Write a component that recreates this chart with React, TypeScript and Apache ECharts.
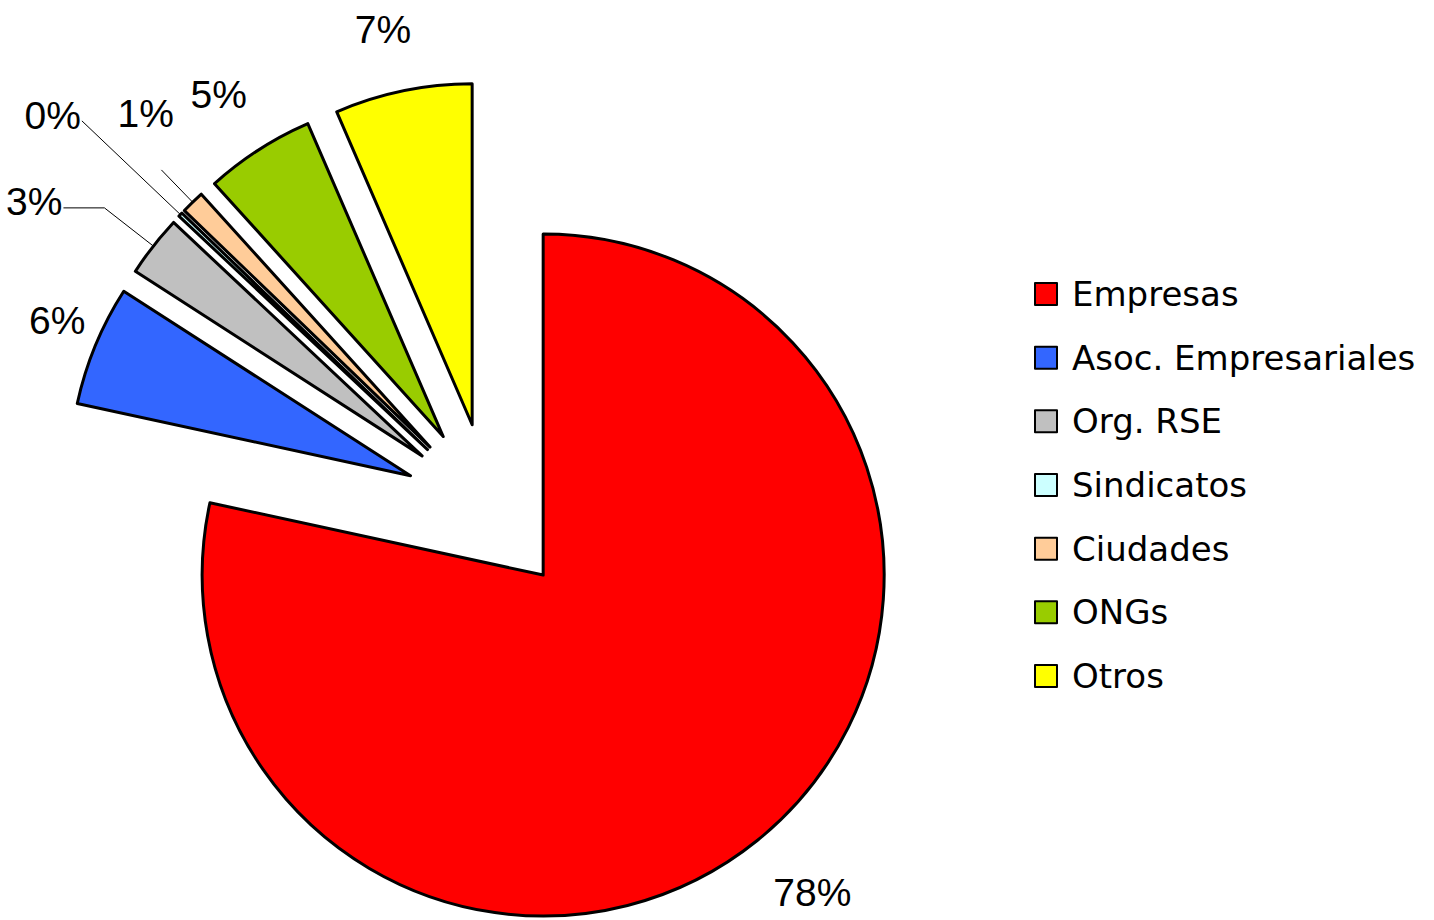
import React, { useEffect, useRef } from 'react';
import * as echarts from 'echarts';

// ---- data ----
const categories = ['Empresas', 'Asoc. Empresariales', 'Org. RSE', 'Sindicatos', 'Ciudades', 'ONGs', 'Otros'];
const shares = [78.4, 5.7, 2.9, 0.2, 1.1, 5.2, 6.5];
const sliceColors = ['#FF0000', '#3366FF', '#C0C0C0', '#CCFFFF', '#FFCC99', '#99CC00', '#FFFF00'];

// ---- label placement (style only) ----
const labelPlacement = [
  { len: 67, len2: -26, dist: 0, line: false, pad: 0 },
  { len: 66, len2: -51, dist: 0, line: false, pad: 0 },
  { len: 62, len2: 41, dist: 1, line: true, pad: 12 },
  { len: 136, len2: 0, dist: 1, line: true, pad: 10 },
  { len: 45, len2: 0, dist: -12.6, line: true, pad: 113 },
  { len: 66, len2: -24, dist: 0, line: false, pad: 0 },
  { len: 63, len2: -21, dist: 0, line: false, pad: 0 },
];

export default function App() {
  const ref = useRef<HTMLDivElement>(null);

  useEffect(() => {
    if (!ref.current) return;
    const chart = echarts.init(ref.current, undefined, { renderer: 'svg' });
    const labelFont = "'Liberation Sans Narrow', 'Arial Narrow', 'Liberation Sans', sans-serif";
    const labelSize = 39;
    chart.setOption({
      animation: false,
      backgroundColor: '#FFFFFF',
      legend: {
        orient: 'vertical',
        left: 1034,
        top: 277,
        padding: 0,
        itemWidth: 22,
        itemHeight: 22,
        itemGap: 29.67,
        icon: 'rect',
        selectedMode: false,
        itemStyle: { borderColor: '#000000', borderWidth: 2 },
        textStyle: {
          fontFamily: "'DejaVu Sans', sans-serif",
          fontSize: 34,
          lineHeight: 34,
          color: '#000000',
          padding: [0, 0, 0, 10],
        },
        data: categories,
      },
      series: [
        {
          type: 'pie',
          center: [489.5, 508.5],
          radius: 341,
          startAngle: 90,
          clockwise: true,
          selectedMode: 'multiple',
          selectedOffset: 85.5,
          avoidLabelOverlap: false,
          emphasis: { disabled: true },
          itemStyle: { borderColor: '#000000', borderWidth: 3 },
          select: { itemStyle: { borderColor: '#000000', borderWidth: 3 } },
          label: {
            show: true,
            position: 'outside',
            formatter: (p: any) => '{v|' + Math.round(p.value) + '%}',
            fontFamily: labelFont,
            fontSize: labelSize,
            color: '#000000',
          },
          labelLine: {
            smooth: false,
            lineStyle: { color: '#000000', width: 1 },
          },
          data: categories.map((name, i) => {
            const p = labelPlacement[i];
            return {
              name,
              value: shares[i],
              selected: true,
              itemStyle: { color: sliceColors[i] },
              label: {
                distanceToLabelLine: p.dist,
                rich: {
                  v: {
                    fontFamily: labelFont,
                    fontSize: labelSize,
                    color: '#000000',
                    padding: [0, 0, p.pad, 0],
                  },
                },
              },
              labelLine: { show: p.line, length: p.len, length2: p.len2 },
            };
          }),
        },
      ],
    });
    return () => chart.dispose();
  }, []);

  return (
    <div
      ref={ref}
      style={{ position: 'fixed', left: 0, top: 0, width: 1434, height: 920, background: '#FFFFFF' }}
    />
  );
}
